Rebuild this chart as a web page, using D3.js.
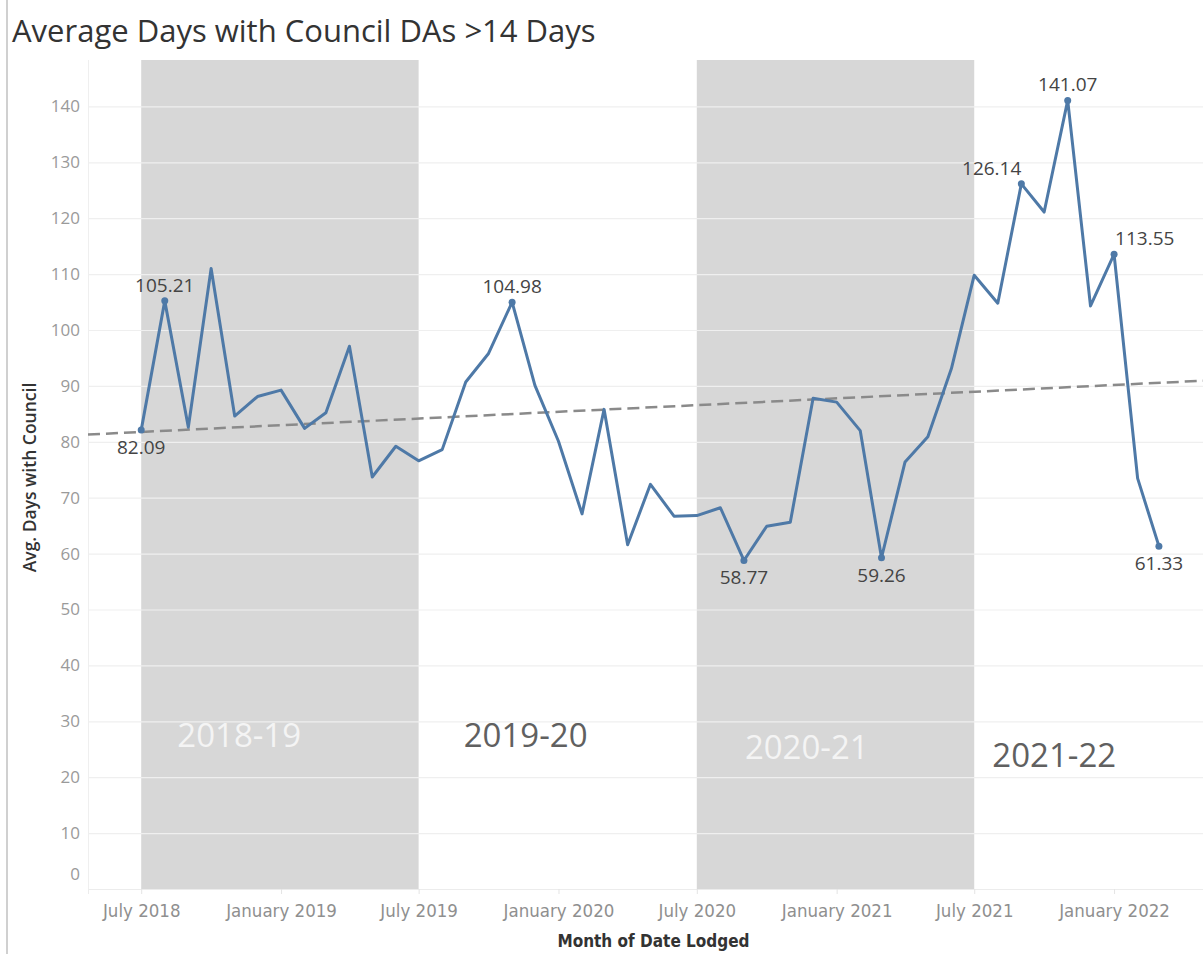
<!DOCTYPE html>
<html>
<head>
<meta charset="utf-8">
<script src="https://cdn.jsdelivr.net/npm/d3@7"></script>
<style>
  body { margin: 0; background: #fff; }
  svg { display: block; }
</style>
</head>
<body>
<div id="chart"></div>
<script>
// monthly averages, July 2018 .. March 2022
const startMonth = [2018, 6];
const avgDays = [
  82.09, 105.21, 82.6, 111.0, 84.6, 88.1, 89.25, 82.4, 85.2, 97.1, 73.7, 79.2,
  76.6, 78.6, 90.7, 95.8, 104.98, 90.1, 80.1, 67.1, 85.8, 61.6, 72.4, 66.7,
  66.8, 68.2, 58.77, 64.9, 65.6, 87.8, 87.1, 82.0, 59.26, 76.4, 80.9, 93.1,
  109.8, 104.8, 126.14, 121.1, 141.07, 104.3, 113.55, 73.45, 61.33
];
// months (index into avgDays) that carry a mark label
const labelled = [0, 1, 16, 26, 32, 38, 40, 42, 44];
const labelPos = ["below", "above", "above", "below", "below", "left", "above", "right", "below"];

const yTicks = d3.range(0, 141, 10);
const periods = ["2018-19", "2019-20", "2020-21", "2021-22"];
const periodStart = [new Date(2018, 6, 1), new Date(2019, 6, 1), new Date(2020, 6, 1), new Date(2021, 6, 1)];
const shaded = [true, false, true, false];

const width = 1203, height = 954;
const pane = { left: 88, right: 1203, top: 60, bottom: 889 };

const data = avgDays.map(function(v, i) {
    return { date: new Date(startMonth[0], startMonth[1] + i, 1), value: v };
});

let svg = d3.select("#chart")
    .append("svg")
    .attr("width", width)
    .attr("height", height);

let x = d3.scaleTime()
    .domain([new Date(2018, 3, 22), new Date(2022, 3, 28)])
    .range([pane.left, pane.right]);

let y = d3.scaleLinear()
    .domain([0, 148.3])
    .range([pane.bottom, pane.top]);

// dashboard border
svg.append("line")
    .attr("x1", 7).attr("x2", 7).attr("y1", 0).attr("y2", height)
    .attr("stroke", "#d0d0d0").attr("stroke-width", 2);

svg.append("text")
    .attr("x", 12).attr("y", 42)
    .style("font-family", "Open Sans")
    .style("font-size", "31px")
    .style("fill", "#333")
    .text("Average Days with Council DAs >14 Days");

// financial year bands
svg.append("g").selectAll("rect")
    .data(periods.filter(function(d, i) { return shaded[i]; }))
    .enter()
    .append("rect")
    .attr("x", function(d) { return x(periodStart[periods.indexOf(d)]); })
    .attr("width", function(d) {
        let s = periodStart[periods.indexOf(d)];
        return x(d3.timeYear.offset(s, 1)) - x(s);
    })
    .attr("y", pane.top)
    .attr("height", pane.bottom - pane.top)
    .attr("fill", "#d7d7d7");

// gridlines
svg.append("g").selectAll("line")
    .data(yTicks)
    .enter()
    .append("line")
    .attr("x1", pane.left).attr("x2", pane.right)
    .attr("y1", function(d) { return y(d) + 0.5; })
    .attr("y2", function(d) { return y(d) + 0.5; })
    .attr("stroke", "#efefef").attr("stroke-width", 1.2);

svg.append("line")
    .attr("x1", pane.left + 0.5).attr("x2", pane.left + 0.5)
    .attr("y1", pane.top).attr("y2", pane.bottom)
    .attr("stroke", "#efefef");

// y axis labels
let yAxis = svg.append("g")
    .attr("transform", `translate(${pane.left}, 0)`)
    .call(d3.axisLeft(y).tickValues(yTicks).tickSize(0).tickPadding(8));
yAxis.select(".domain").remove();
yAxis.selectAll("text")
    .style("font-family", "Open Sans")
    .style("font-size", "17px")
    .style("fill", "#9a9a9a")
    .attr("dy", function(d) { return d === 0 ? "-0.55em" : "0.32em"; });

svg.append("text")
    .attr("transform", `translate(36, ${(pane.top + pane.bottom) / 2 + 3}) rotate(-90)`)
    .style("text-anchor", "middle")
    .style("font-family", "Open Sans")
    .style("font-size", "17.5px")
    .style("font-weight", 600)
    .style("fill", "#333")
    .text("Avg. Days with Council");

// x axis
let xTicks = d3.timeMonth.every(6).range(new Date(2018, 6, 1), new Date(2022, 2, 1));
let xAxis = svg.append("g")
    .attr("transform", `translate(0, ${pane.bottom})`)
    .call(d3.axisBottom(x).tickValues(xTicks).tickSize(5).tickPadding(10)
        .tickFormat(d3.timeFormat("%B %Y")));
xAxis.select(".domain")
    .attr("stroke", "#ececec");
xAxis.selectAll(".tick line").attr("stroke", "#e4e4e4");
xAxis.selectAll("text")
    .style("font-family", "'Liberation Sans Narrow', 'DejaVu Sans Condensed', sans-serif")
    .style("font-size", "18.5px")
    .style("fill", "#8f8f8f");

svg.append("text")
    .attr("x", (pane.left + pane.right) / 2 + 8)
    .attr("y", 947)
    .style("text-anchor", "middle")
    .style("font-family", "'Liberation Sans Narrow', 'DejaVu Sans Condensed', sans-serif")
    .style("font-size", "17px")
    .style("font-weight", 700)
    .style("fill", "#333")
    .text("Month of Date Lodged");

// period labels
const periodDx = [98, 107, 110, 80];
const periodY = [747, 747, 759, 767];
svg.append("g").selectAll("text")
    .data(periods)
    .enter()
    .append("text")
    .attr("x", function(d, i) { return x(periodStart[i]) + periodDx[i]; })
    .attr("y", function(d, i) { return periodY[i]; })
    .style("text-anchor", "middle")
    .style("font-family", "Open Sans")
    .style("font-size", "33px")
    .style("fill", function(d, i) { return shaded[i] ? "#f4f4f4" : "#606060"; })
    .text(function(d) { return d; });

// linear trend
let t0 = data[0].date.getTime();
let xs = data.map(function(d) { return (d.date.getTime() - t0) / 864e5; });
let mx = d3.mean(xs), my = d3.mean(data, function(d) { return d.value; });
let slope = d3.sum(xs, function(v, i) { return (v - mx) * (data[i].value - my); }) /
    d3.sum(xs, function(v) { return (v - mx) * (v - mx); });
let trendAt = function(date) {
    return my + slope * ((date.getTime() - t0) / 864e5 - mx);
};
let ends = x.domain();
svg.append("line")
    .attr("x1", x(ends[0])).attr("y1", y(trendAt(ends[0])))
    .attr("x2", x(ends[1])).attr("y2", y(trendAt(ends[1])))
    .attr("stroke", "#8a8a8a")
    .attr("stroke-width", 2.5)
    .attr("stroke-dasharray", "12,6");

// main series
let line = d3.line()
    .x(function(d) { return x(d.date); })
    .y(function(d) { return y(d.value); });

svg.append("path")
    .datum(data)
    .attr("fill", "none")
    .attr("stroke", "#4e79a7")
    .attr("stroke-width", 3)
    .attr("stroke-linejoin", "round")
    .attr("d", line);

let marks = labelled.map(function(i, k) { return { d: data[i], pos: labelPos[k] }; });

svg.append("g").selectAll("circle")
    .data(marks)
    .enter()
    .append("circle")
    .attr("cx", function(m) { return x(m.d.date); })
    .attr("cy", function(m) { return y(m.d.value); })
    .attr("r", 3.5)
    .attr("fill", "#4e79a7");

svg.append("g").selectAll("text")
    .data(marks)
    .enter()
    .append("text")
    .attr("x", function(m) {
        let px = x(m.d.date);
        if (m.pos === "right") return px + 1;
        return px;
    })
    .attr("y", function(m) {
        let py = y(m.d.value);
        if (m.pos === "above") return py - 9;
        if (m.pos === "below") return py + 24;
        return py - 9;
    })
    .style("text-anchor", function(m) {
        if (m.pos === "left") return "end";
        if (m.pos === "right") return "start";
        return "middle";
    })
    .style("font-family", "Open Sans")
    .style("font-size", "19px")
    .style("fill", "#444")
    .text(function(m) { return m.d.value.toFixed(2); });
</script>
</body>
</html>
